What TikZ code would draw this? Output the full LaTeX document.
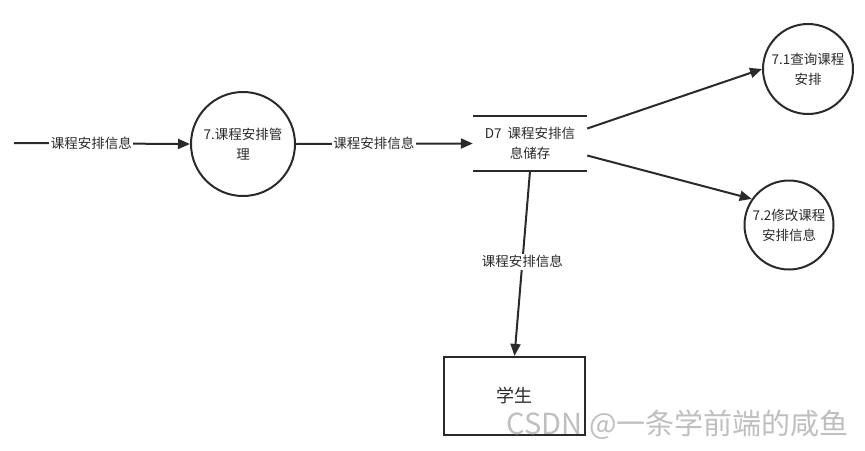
\documentclass[tikz,border=0pt]{standalone}
\usepackage{fontspec}
\setmainfont{Noto Sans CJK SC}
\usetikzlibrary{arrows.meta}
\definecolor{ink}{HTML}{2A2A2A}
\tikzset{
  proc/.style={circle,draw=ink,line width=2pt,inner sep=0pt,font=\fontsize{13.5}{20}\selectfont,align=center,text=ink},
  flow/.style={draw=ink,line width=2pt,-{Triangle[length=12pt,width=10pt]}},
  lbl/.style={fill=white,inner sep=1.5pt,font=\fontsize{13.5}{16}\selectfont,text=ink},
}
\begin{document}
\begin{tikzpicture}[x=1pt,y=-1pt]
\useasboundingbox (0,0) rectangle (865,450);
% nodes
\coordinate (src) at (14,143);
\node[proc,minimum size=104pt] (c7) at (243,144) {7.课程安排管\\理};
\node[minimum width=114pt,minimum height=55pt,inner sep=0pt,align=center,font=\fontsize{13.5}{20}\selectfont,text=ink] (d7) at (530,143.5) {D7\ \ 课程安排信\\息储存};
\draw[ink,line width=2pt] (d7.north west) -- (d7.north east);
\draw[ink,line width=2pt] (d7.south west) -- (d7.south east);
\node[proc,minimum size=90pt] (c71) at (808,69) {7.1查询课程\\安排};
\node[proc,minimum size=89pt] (c72) at (789,225) {7.2修改课程\\安排信息};
\node[draw=ink,line width=2.2pt,minimum width=141pt,minimum height=78pt,inner sep=0pt,font=\fontsize{18}{20}\selectfont,text=ink] (stu) at (514.5,396) {学生};
% flows
\draw[flow] (src) -- node[lbl,pos=0.44] (l1) {课程安排信息} (c7.west);
\draw[flow] (c7.east) -- node[lbl,pos=0.44] (l2) {课程安排信息} (d7.west);
\draw[flow] ([yshift=15pt]d7.east) -- (c71.west);
\draw[flow] ([yshift=-12pt]d7.east) -- (c72.145);
\draw[flow] (d7.south) -- node[lbl,pos=0.49] (l3) {课程安排信息} (stu.north);
% watermark
\node[anchor=east,text=gray!50,font=\fontsize{29}{32}\selectfont,inner sep=0pt] (wm) at (849,425) {CSDN @一条学前端的咸鱼};
\end{tikzpicture}
\end{document}
